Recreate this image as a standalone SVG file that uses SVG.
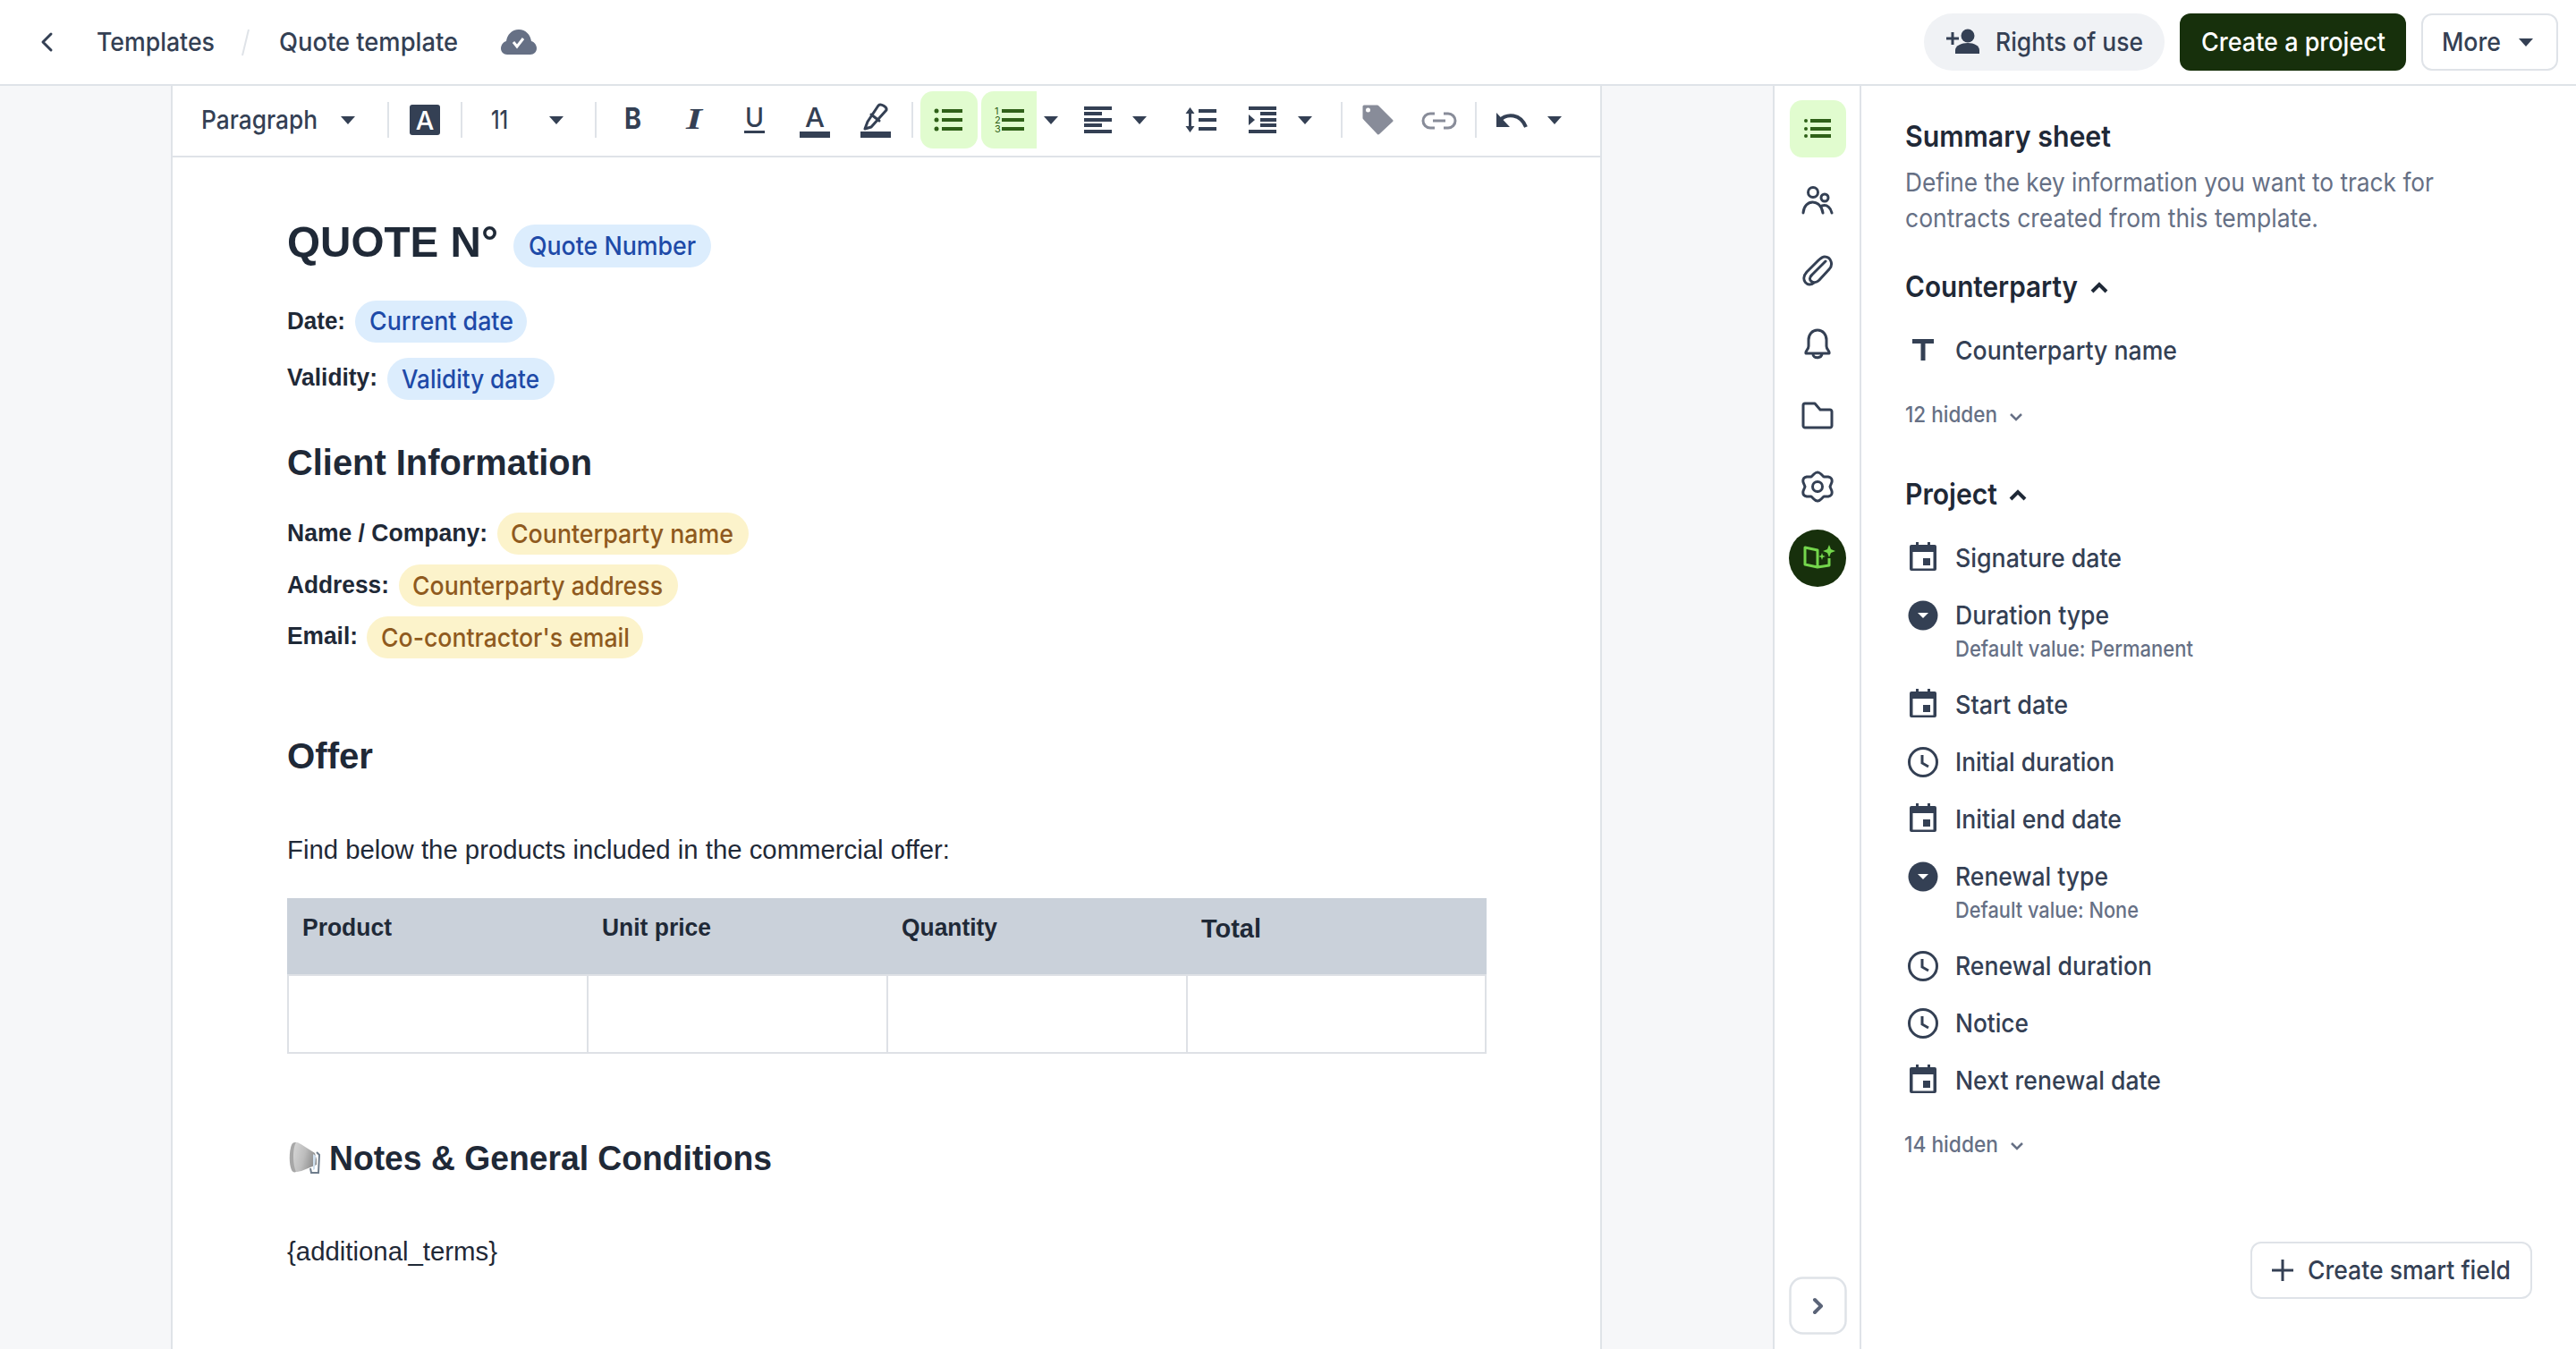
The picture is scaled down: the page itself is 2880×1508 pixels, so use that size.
<svg xmlns="http://www.w3.org/2000/svg" width="2880" height="1508" viewBox="0 0 2880 1508">
<defs>
<style>
text{font-family:Inter,"Noto Sans","Liberation Sans",sans-serif;white-space:pre}
.ui{font-size:29px;fill:#344054;font-weight:500}
.sub{font-size:24.500px;fill:#667085;font-weight:500}
.desc{font-size:29px;fill:#667085}
.h{font-size:33px;fill:#1f2937;font-weight:600}
.d{font-family:"Liberation Sans",Arial,sans-serif;fill:#1f2937;font-weight:700}
.line{stroke:#dfe3e8;stroke-width:2;fill:none}
.sep{stroke:#dfe3e8;stroke-width:2}
.blue{fill:#dcedfd}.yel{fill:#fcf3cb}
.bt{font-size:29px;fill:#1e4aa8;font-weight:500}
.yt{font-size:29px;fill:#8f5a1e;font-weight:500}
.tri{fill:#344054}
.ico{fill:none;stroke:#344054;stroke-width:3;stroke-linecap:round;stroke-linejoin:round}
.bar{fill:#344054}
.gbar{fill:#2f6018}
</style>
<path id="tri" d="M0 0h16l-8 9z"/>
<g id="cal"><path fill="#344054" d="M2 3h5v-3h3v3h10v-3h3v3h5a2 2 0 0 1 2 2v25a2 2 0 0 1-2 2h-26a2 2 0 0 1-2-2v-25a2 2 0 0 1 2-2z"/><rect x="3.500" y="11" width="23" height="18.500" fill="#fff"/><rect x="15" y="18" width="8" height="8" fill="#344054"/></g>
<g id="clock"><circle r="15.500" fill="none" stroke="#344054" stroke-width="3"/><path d="M-1-8v9l7 4" fill="none" stroke="#344054" stroke-width="3"/></g>
<g id="sel"><circle r="16.500" fill="#344054"/><path d="M-6-3h12l-6 6z" fill="#fff"/></g>
<linearGradient id="horn" x1="0" y1="0" x2="1" y2="0.300"><stop offset="0" stop-color="#dcdcdc"/><stop offset="0.600" stop-color="#bdbdbd"/><stop offset="1" stop-color="#8f8f8f"/></linearGradient>
</defs>
<rect id="page" width="2880" height="1508" fill="#fff"/>
<g id="backdrop">
<rect y="96" width="192" height="1412" fill="#f6f7f9"/>
<rect x="1790" y="96" width="193" height="1412" fill="#f6f7f9"/>
<path class="line" d="M0 95H2880M192 96V1508M1790 96V1508M1983 96V1508M2080 96V1508M192 175H1790"/>
</g>
<g id="header">
<path class="ico" d="M57 38l-9 9 9 9"/>
<text class="ui" x="108" y="57" textLength="132" lengthAdjust="spacingAndGlyphs">Templates</text>
<path d="M278 33L271 62" stroke="#dfe3e8" stroke-width="2"/>
<text class="ui" x="312" y="57" textLength="200" lengthAdjust="spacingAndGlyphs">Quote template</text>
<path fill="#667085" d="M580 33c8 0 13 6 14 13 4 1 6 5 6 8 0 4-3 7-7 7h-26c-4 0-7-3-7-7 0-3 2-7 6-8 1-7 6-13 14-13z"/>
<path d="M574 47l4 5 7-9" fill="none" stroke="#fff" stroke-width="3"/>
</g>
<g id="rights">
<rect x="2151" y="15" width="269" height="64" rx="32" fill="#f0f2f5"/>
<circle cx="2200" cy="40" r="7.500" fill="#344054"/>
<path fill="#344054" d="M2186 60v-4c0-5 7-8 14-8s13 3 13 8v4z"/>
<path d="M2176 43h14M2183 36v14" stroke="#344054" stroke-width="3"/>
<text class="ui" x="2231" y="57" textLength="165" lengthAdjust="spacingAndGlyphs">Rights of use</text>
</g>
<g id="create-project">
<rect x="2437" y="15" width="253" height="64" rx="12" fill="#17300c"/>
<text class="ui" x="2461" y="57" textLength="206" lengthAdjust="spacingAndGlyphs" style="fill:#fff">Create a project</text>
</g>
<g id="more">
<rect x="2708" y="16" width="151" height="62" rx="11" fill="#fff" stroke="#dfe3e8" stroke-width="2"/>
<text class="ui" x="2730" y="57" textLength="66" lengthAdjust="spacingAndGlyphs">More</text>
<use href="#tri" x="2816" y="43" class="tri"/>
</g>
<g id="toolbar">
<text class="ui" x="225" y="144" textLength="130" lengthAdjust="spacingAndGlyphs">Paragraph</text>
<use href="#tri" x="381" y="130" class="tri"/>
<path class="sep" d="M434 114v40M516 114v40M666 114v40M1020 114v40M1500 114v40M1650 114v40"/>
<rect x="458" y="117" width="34" height="34" rx="3" fill="#344054"/>
<text x="475" y="145" text-anchor="middle" style="font-size:29px;font-weight:500;fill:#fff">A</text>
<text class="ui" x="549" y="144" textLength="19" lengthAdjust="spacingAndGlyphs">11</text>
<use href="#tri" x="614" y="130" class="tri"/>
<text x="698" y="144" textLength="19" lengthAdjust="spacingAndGlyphs" style="font-size:32px;font-weight:700;fill:#344054">B</text>
<text x="767" y="144" textLength="18" lengthAdjust="spacingAndGlyphs" style="font-family:'Liberation Serif',serif;font-size:33px;font-weight:700;font-style:italic;fill:#344054">I</text>
<text x="833" y="142" textLength="21" lengthAdjust="spacingAndGlyphs" style="font-size:30px;font-weight:500;fill:#344054">U</text>
<rect class="bar" x="832" y="146" width="23" height="3"/>
<text x="900" y="142" textLength="22" lengthAdjust="spacingAndGlyphs" style="font-size:30px;font-weight:500;fill:#344054">A</text>
<rect class="bar" x="894" y="147" width="34" height="7"/>
<g id="highlight">
<path class="ico" d="M982 118l-12 18-3 8 7-2 17-19c1-3-6-8-9-5zM974 128l9 7"/>
<rect class="bar" x="962" y="147" width="34" height="7"/>
</g>
<path fill="#e1fccf" d="M1043 102h36a14 14 0 0 1 14 14v36a14 14 0 0 1-14 14h-36a14 14 0 0 1-14-14v-36a14 14 0 0 1 14-14z"/>
<path fill="#e1fccf" d="M1111 102h48v64h-48a14 14 0 0 1-14-14v-36a14 14 0 0 1 14-14z"/>
<g class="gbar">
<circle cx="1047" cy="124" r="2.500"/><circle cx="1047" cy="134" r="2.500"/><circle cx="1047" cy="144" r="2.500"/>
<rect x="1053" y="122" width="23" height="4"/><rect x="1053" y="132" width="23" height="4"/><rect x="1053" y="142" width="23" height="4"/>
<rect x="1120" y="122" width="25" height="4"/><rect x="1120" y="132" width="25" height="4"/><rect x="1120" y="142" width="25" height="4"/>
</g>
<text x="1112" y="128" style="font-size:11px;fill:#2f6018">1</text><text x="1112" y="138" style="font-size:11px;fill:#2f6018">2</text><text x="1112" y="148" style="font-size:11px;fill:#2f6018">3</text>
<use href="#tri" x="1167" y="130" class="tri"/>
<g class="bar">
<rect x="1212" y="119" width="31" height="4"/><rect x="1212" y="125" width="20" height="4"/><rect x="1212" y="132" width="31" height="4"/><rect x="1212" y="138" width="20" height="4"/><rect x="1212" y="145" width="31" height="4"/>
</g>
<use href="#tri" x="1266" y="130" class="tri"/>
<path fill="#344054" d="M1330.500 120l5 7h-3.500v14h3.500l-5 7-5-7h3.500v-14h-3.500z"/>
<g class="bar"><rect x="1340" y="122" width="20" height="4"/><rect x="1340" y="132" width="20" height="4"/><rect x="1340" y="142" width="20" height="4"/></g>
<g class="bar"><rect x="1396" y="119" width="31" height="4"/><rect x="1409" y="125" width="18" height="4"/><rect x="1409" y="132" width="18" height="4"/><rect x="1409" y="138" width="18" height="4"/><rect x="1396" y="145" width="31" height="4"/></g>
<path d="M1396 128l7 6-7 6z" fill="#344054"/>
<use href="#tri" x="1451" y="130" class="tri"/>
<path fill="#888c99" stroke="#888c99" stroke-width="3" stroke-linejoin="round" d="M1525 119v13l16 17 15-14-16-16z"/>
<circle cx="1529.500" cy="123" r="2.500" fill="#fff"/>
<path d="M1604 127h-5a8 8 0 0 0 0 16h5M1614 127h5a8 8 0 0 1 0 16h-5M1602 135h14" fill="none" stroke="#888c99" stroke-width="3"/>
<path d="M1676 135c9-9 24-8 30 7" fill="none" stroke="#344054" stroke-width="4"/>
<path d="M1673 126v16h15z" fill="#344054"/>
<use href="#tri" x="1730" y="130" class="tri"/>
</g>
<g id="document">
<text class="d" x="321" y="287" textLength="236" lengthAdjust="spacingAndGlyphs" style="font-size:49px">QUOTE N°</text>
<g id="chip-quote"><rect class="blue" x="574" y="251" width="221" height="48" rx="24"/><text class="bt" x="591" y="285" textLength="187" lengthAdjust="spacingAndGlyphs">Quote Number</text></g>
<text class="d" x="321" y="368" textLength="65" lengthAdjust="spacingAndGlyphs" style="font-size:27px">Date:</text>
<g id="chip-date"><rect class="blue" x="397" y="336" width="192" height="47" rx="23.500"/><text class="bt" x="413" y="369" textLength="161" lengthAdjust="spacingAndGlyphs">Current date</text></g>
<text class="d" x="321" y="431" textLength="101" lengthAdjust="spacingAndGlyphs" style="font-size:27px">Validity:</text>
<g id="chip-validity"><rect class="blue" x="433" y="400" width="187" height="47" rx="23.500"/><text class="bt" x="449" y="434" textLength="154" lengthAdjust="spacingAndGlyphs">Validity date</text></g>
<text class="d" x="321" y="531" textLength="341" lengthAdjust="spacingAndGlyphs" style="font-size:41px">Client Information</text>
<text class="d" x="321" y="605" textLength="224" lengthAdjust="spacingAndGlyphs" style="font-size:27px">Name / Company:</text>
<g id="chip-name"><rect class="yel" x="556" y="573" width="281" height="47" rx="23.500"/><text class="yt" x="571" y="607" textLength="249" lengthAdjust="spacingAndGlyphs">Counterparty name</text></g>
<text class="d" x="321" y="663" textLength="114" lengthAdjust="spacingAndGlyphs" style="font-size:27px">Address:</text>
<g id="chip-address"><rect class="yel" x="446" y="631" width="312" height="47" rx="23.500"/><text class="yt" x="461" y="665" textLength="280" lengthAdjust="spacingAndGlyphs">Counterparty address</text></g>
<text class="d" x="321" y="720" textLength="79" lengthAdjust="spacingAndGlyphs" style="font-size:27px">Email:</text>
<g id="chip-email"><rect class="yel" x="410" y="689" width="309" height="47" rx="23.500"/><text class="yt" x="426" y="723" textLength="278" lengthAdjust="spacingAndGlyphs">Co-contractor's email</text></g>
<text class="d" x="321" y="859" textLength="96" lengthAdjust="spacingAndGlyphs" style="font-size:41px">Offer</text>
<text class="d" x="321" y="960" textLength="741" lengthAdjust="spacingAndGlyphs" style="font-size:29px;font-weight:400">Find below the products included in the commercial offer:</text>
<g id="table">
<rect x="322" y="1005" width="1339" height="172" fill="#fff" stroke="#dee1e6" stroke-width="2"/>
<rect x="321" y="1004" width="1341" height="85" fill="#cad1da"/>
<path d="M321 1090H1662M657 1090V1177M992 1090V1177M1327 1090V1177" stroke="#dee1e6" stroke-width="2"/>
<text class="d" x="338" y="1046" textLength="100" lengthAdjust="spacingAndGlyphs" style="font-size:27px">Product</text>
<text class="d" x="673" y="1046" textLength="122" lengthAdjust="spacingAndGlyphs" style="font-size:27px">Unit price</text>
<text class="d" x="1008" y="1046" textLength="107" lengthAdjust="spacingAndGlyphs" style="font-size:27px">Quantity</text>
<text class="d" x="1343" y="1048" textLength="67" lengthAdjust="spacingAndGlyphs" style="font-size:29px">Total</text>
</g>
<g id="megaphone">
<path fill="url(#horn)" d="M331 1277c3 0 5 2 7 3l14 9 2 7 0 6-17 7-5 1c-3 0-4-1-5-3-3-8-3-26 0-29 1-1 2-1 4-1z"/>
<path fill="#a7a7a7" d="M331 1277c-3 0-4 1-5 3-3 7-3 22 0 28 1 2 3 3 5 2-4-8-4-27 0-33z"/>
<path d="M347 1306l1 5h8l1-20-3-3" fill="none" stroke="#6f7d8c" stroke-width="2"/>
<path d="M350 1290l3 2-1 15-2 1z" fill="#cfe0ef"/>
</g>
<text class="d" x="368" y="1308" textLength="495" lengthAdjust="spacingAndGlyphs" style="font-size:39px">Notes &amp; General Conditions</text>
<text class="d" x="321" y="1409" textLength="235" lengthAdjust="spacingAndGlyphs" style="font-size:29px;font-weight:400">{additional_terms}</text>
</g>
<g id="rail">
<rect x="2001" y="112" width="63" height="64" rx="14" fill="#e1fccf"/>
<g class="gbar"><rect x="2024" y="133" width="23" height="4"/><rect x="2024" y="142" width="23" height="4"/><rect x="2024" y="150" width="23" height="4"/><circle cx="2019" cy="135" r="2"/><circle cx="2019" cy="144" r="2"/><circle cx="2019" cy="152" r="2"/></g>
<g class="ico">
<circle cx="2027" cy="215" r="5.500"/><circle cx="2040" cy="221" r="4"/>
<path d="M2016 238c1-16 20-16 22 0M2037 230c6-2 10 3 11 8"/>
<path d="M2041 295l-15 15c-7 6 2 12 8 6l11-12c5-5 2-14-5-14-3 0-5 2-8 5l-12 12c-8 9 1 18 8 12" transform="translate(0 -3)"/>
<path d="M2019 395h26c1-3-3-4-3-8v-7c0-6-4-11-10-11s-10 5-10 11v7c0 4-4 5-3 8zM2027 396c0 5 9 5 10 0"/>
<path d="M2016 453c0-1 0-2 2-2h11l6 7h11c1 0 2 1 2 2v16c0 1-1 2-2 2h-28c-1 0-2-1-2-2z"/>
<path d="M2028 530Q2032 526 2036 530L2039 533L2044 533Q2049 534 2048 539L2046 544L2048 549Q2049 554 2044 555L2039 555L2036 558Q2032 562 2028 558L2025 555L2020 555Q2015 554 2016 549L2018 544L2016 539Q2015 534 2020 533L2025 533Z"/><circle cx="2032" cy="544" r="5.500"/>
</g>
<circle cx="2032" cy="624" r="32" fill="#17300c"/>
<g style="fill:none;stroke:#74d64c;stroke-width:3;stroke-linejoin:round">
<path d="M2018 612l14 3v19l-14-3zM2032 615v19l13-2v-8"/>
</g>
<path fill="#74d64c" d="M2045 609l2 5 5 2-5 2-2 5-2-5-5-2 5-2zM2037 618l1 3 3 1-3 1-1 3-1-3-3-1 3-1z"/>
<rect x="2001.500" y="1428.500" width="62" height="62" rx="14" fill="#fff" stroke="#dfe3e8" stroke-width="2.500"/>
<path d="M2029 1453l7 7-7 7" fill="none" stroke="#5b6478" stroke-width="4" stroke-linecap="round" stroke-linejoin="round"/>
</g>
<g id="summary">
<text class="h" x="2130" y="164" textLength="230" lengthAdjust="spacingAndGlyphs">Summary sheet</text>
<text class="desc" x="2130" y="214" textLength="591" lengthAdjust="spacingAndGlyphs">Define the key information you want to track for</text>
<text class="desc" x="2130" y="254" textLength="462" lengthAdjust="spacingAndGlyphs">contracts created from this template.</text>
<text class="h" x="2130" y="332" textLength="193" lengthAdjust="spacingAndGlyphs">Counterparty</text>
<path d="M2339 326l8-8 8 8" fill="none" stroke="#1f2937" stroke-width="4"/>
<path fill="#344054" d="M2138 379h24v5h-9.500v19h-5v-19h-9.500z"/>
<text class="ui" x="2186" y="402" textLength="248" lengthAdjust="spacingAndGlyphs">Counterparty name</text>
<text class="sub" x="2130" y="472" textLength="103" lengthAdjust="spacingAndGlyphs">12 hidden</text>
<path d="M2248 463l6 6 6-6" fill="none" stroke="#667085" stroke-width="2.500"/>
<text class="h" x="2130" y="564" textLength="103" lengthAdjust="spacingAndGlyphs">Project</text>
<path d="M2248 558l8-8 8 8" fill="none" stroke="#1f2937" stroke-width="4"/>
<use href="#cal" x="2135" y="606"/>
<text class="ui" x="2186" y="634" textLength="186" lengthAdjust="spacingAndGlyphs">Signature date</text>
<use href="#sel" x="2150" y="688"/>
<text class="ui" x="2186" y="698" textLength="172" lengthAdjust="spacingAndGlyphs">Duration type</text>
<text class="sub" x="2186" y="734" textLength="266" lengthAdjust="spacingAndGlyphs">Default value: Permanent</text>
<use href="#cal" x="2135" y="770"/>
<text class="ui" x="2186" y="798" textLength="126" lengthAdjust="spacingAndGlyphs">Start date</text>
<use href="#clock" x="2150" y="852"/>
<text class="ui" x="2186" y="862" textLength="178" lengthAdjust="spacingAndGlyphs">Initial duration</text>
<use href="#cal" x="2135" y="898"/>
<text class="ui" x="2186" y="926" textLength="186" lengthAdjust="spacingAndGlyphs">Initial end date</text>
<use href="#sel" x="2150" y="980"/>
<text class="ui" x="2186" y="990" textLength="171" lengthAdjust="spacingAndGlyphs">Renewal type</text>
<text class="sub" x="2186" y="1026" textLength="205" lengthAdjust="spacingAndGlyphs">Default value: None</text>
<use href="#clock" x="2150" y="1080"/>
<text class="ui" x="2186" y="1090" textLength="220" lengthAdjust="spacingAndGlyphs">Renewal duration</text>
<use href="#clock" x="2150" y="1144"/>
<text class="ui" x="2186" y="1154" textLength="82" lengthAdjust="spacingAndGlyphs">Notice</text>
<use href="#cal" x="2135" y="1190"/>
<text class="ui" x="2186" y="1218" textLength="230" lengthAdjust="spacingAndGlyphs">Next renewal date</text>
<text class="sub" x="2129" y="1288" textLength="105" lengthAdjust="spacingAndGlyphs">14 hidden</text>
<path d="M2249 1278l6 6 6-6" fill="none" stroke="#667085" stroke-width="2.500"/>
</g>
<g id="create-smart-field">
<rect x="2517" y="1389" width="313" height="62" rx="11" fill="#fff" stroke="#dfe3e8" stroke-width="2"/>
<path d="M2540 1420h24M2552 1408v24" stroke="#344054" stroke-width="3"/>
<text class="ui" x="2580" y="1430" textLength="227" lengthAdjust="spacingAndGlyphs">Create smart field</text>
</g>
</svg>
